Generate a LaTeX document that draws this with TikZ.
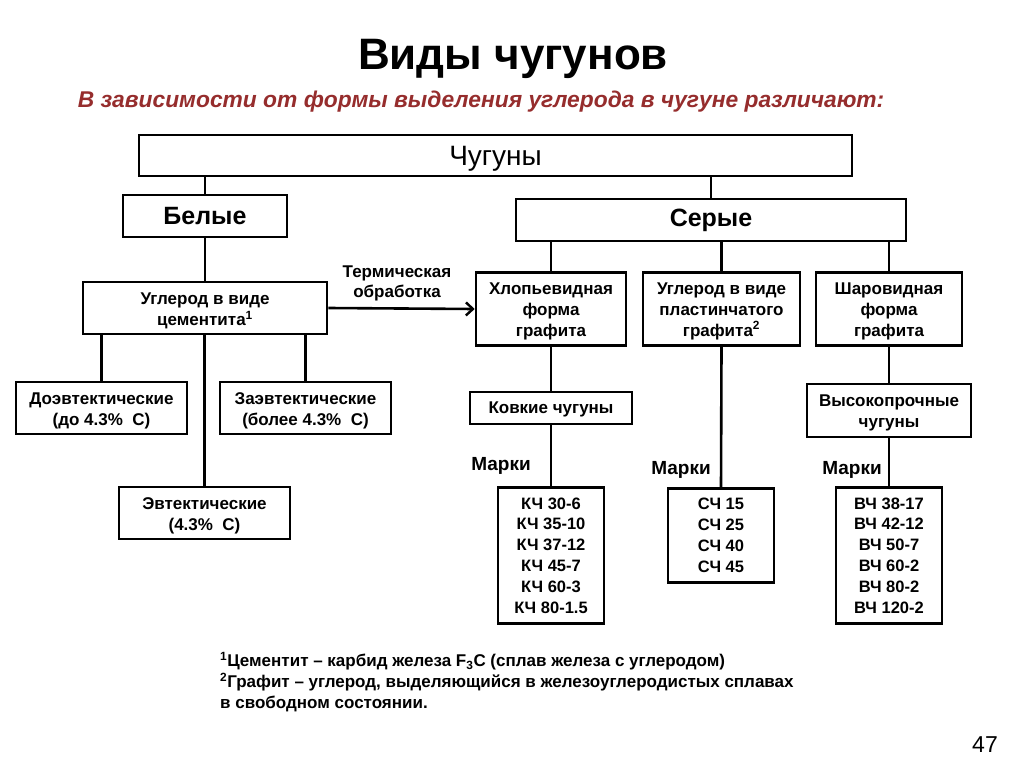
\documentclass[tikz,border=0pt]{standalone}
\usepackage{fontspec}
\setmainfont{Liberation Sans}
\usetikzlibrary{arrows.meta}
\definecolor{subred}{RGB}{150,45,45}
\newcommand\lowr[2]{\raisebox{-#1}[\height][\depth]{\begin{tabular}{@{}c@{}}#2\end{tabular}}}
\begin{document}
\begin{tikzpicture}[x=1pt,y=-1pt,
  box/.style={draw, line width=2.6pt, fill=white, inner sep=0pt, align=center,
    font=\fontsize{17}{21}\selectfont\bfseries},
  conn/.style={line width=2.6pt},
  lbl/.style={inner sep=0pt, align=center, font=\fontsize{17}{20}\selectfont\bfseries},
  marki/.style={inner sep=0pt, font=\fontsize{19}{22}\selectfont\bfseries},
  grade/.style={box, font=\fontsize{16.5}{20.8}\selectfont\bfseries}]
\useasboundingbox (0,0) rectangle (1024,767);
\fill[white] (0,0) rectangle (1024,767);
% titles
\node[inner sep=0pt, font=\fontsize{44}{50}\selectfont\bfseries] (title) at (513,59) {Виды чугунов};
\node[inner sep=0pt, text=subred, font=\fontsize{22.8}{26}\selectfont\bfseries\itshape] (sub) at (481,102) {В зависимости от формы выделения углерода в чугуне различают:};
% boxes
\node[box, minimum width=713pt, minimum height=41pt, font=\fontsize{28}{32}\selectfont] (chug) at (495.5,155.5) {\lowr{4pt}{Чугуны}};
\node[box, minimum width=164pt, minimum height=42pt, font=\fontsize{25}{30}\selectfont\bfseries] (bel) at (205,216) {Белые};
\node[box, minimum width=390pt, minimum height=42pt, font=\fontsize{25}{30}\selectfont\bfseries] (ser) at (711,220) {Серые};
\node[box, minimum width=244pt, minimum height=52pt] (cem) at (205,308) {\lowr{3pt}{Углерод в виде\\цементита\textsuperscript{1}}};
\node[box, minimum width=150pt, minimum height=73pt] (hlop) at (551,309) {\lowr{2pt}{Хлопьевидная\\форма\\графита}};
\node[box, minimum width=157pt, minimum height=73pt] (plast) at (721.5,309) {\lowr{2pt}{Углерод в виде\\пластинчатого\\графита\textsuperscript{2}}};
\node[box, minimum width=146pt, minimum height=73pt] (shar) at (889,309) {\lowr{2pt}{Шаровидная\\форма\\графита}};
\node[box, minimum width=171pt, minimum height=52pt] (doe) at (101.5,408) {\lowr{3pt}{Доэвтектические\\(до 4.3\%\ \ С)}};
\node[box, minimum width=171pt, minimum height=52pt] (zae) at (305.5,408) {\lowr{3pt}{Заэвтектические\\(более 4.3\%\ \ С)}};
\node[box, minimum width=171pt, minimum height=52pt] (evt) at (204.5,513) {\lowr{3pt}{Эвтектические\\(4.3\%\ \ С)}};
\node[box, minimum width=162pt, minimum height=32pt] (kovk) at (551,408) {\lowr{1pt}{Ковкие чугуны}};
\node[box, minimum width=164pt, minimum height=53pt] (vys) at (889,410.5) {\lowr{2.5pt}{Высокопрочные\\чугуны}};
\node[grade, minimum width=106pt, minimum height=136pt] (kch) at (551,555.5) {КЧ 30-6\\КЧ 35-10\\КЧ 37-12\\КЧ 45-7\\КЧ 60-3\\КЧ 80-1.5};
\node[grade, minimum width=106pt, minimum height=94pt] (sch) at (721,535.5) {СЧ 15\\СЧ 25\\СЧ 40\\СЧ 45};
\node[grade, minimum width=106pt, minimum height=136pt] (vch) at (889,555.5) {ВЧ 38-17\\ВЧ 42-12\\ВЧ 50-7\\ВЧ 60-2\\ВЧ 80-2\\ВЧ 120-2};
% labels
\node[lbl] (term) at (397,283) {Термическая\\обработка};
\node[marki] (m1) at (501,466) {Марки};
\node[marki] (m2) at (681,470) {Марки};
\node[marki] (m3) at (852,470) {Марки};
% connectors
\draw[conn] (bel.north |- chug.south) -- (bel.north);
\draw[conn] (ser.north |- chug.south) -- (ser.north);
\draw[conn] (bel.south) -- (cem.north);
\draw[conn] (hlop.north |- ser.south) -- (hlop.north);
\draw[conn] (plast.north |- ser.south) -- (plast.north);
\draw[conn] (shar.north |- ser.south) -- (shar.north);
\draw[conn] (doe.north |- cem.south) -- (doe.north);
\draw[conn] (zae.north |- cem.south) -- (zae.north);
\draw[conn] (evt.north |- cem.south) -- (evt.north);
\draw[conn, -{Straight Barb[length=7pt,width=13pt,line width=2.4pt]}] (cem.east) -- (hlop.west);
\draw[conn] (hlop.south) -- (kovk.north);
\draw[conn] (kovk.south) -- (kch.north);
\draw[conn] (plast.south) -- (sch.north);
\draw[conn] (shar.south) -- (vys.north);
\draw[conn] (vys.south) -- (vch.north);
% footnotes
\node[inner sep=0pt, anchor=north west, align=left, font=\fontsize{17}{20.8}\selectfont\bfseries] (fn) at (220,652) {\textsuperscript{1}Цементит – карбид железа F\textsubscript{3}C (сплав железа с углеродом)\\\textsuperscript{2}Графит – углерод, выделяющийся в железоуглеродистых сплавах\\в свободном состоянии.};
\node[inner sep=0pt, font=\fontsize{23}{26}\selectfont] (pg) at (985,745) {47};
\end{tikzpicture}
\end{document}
